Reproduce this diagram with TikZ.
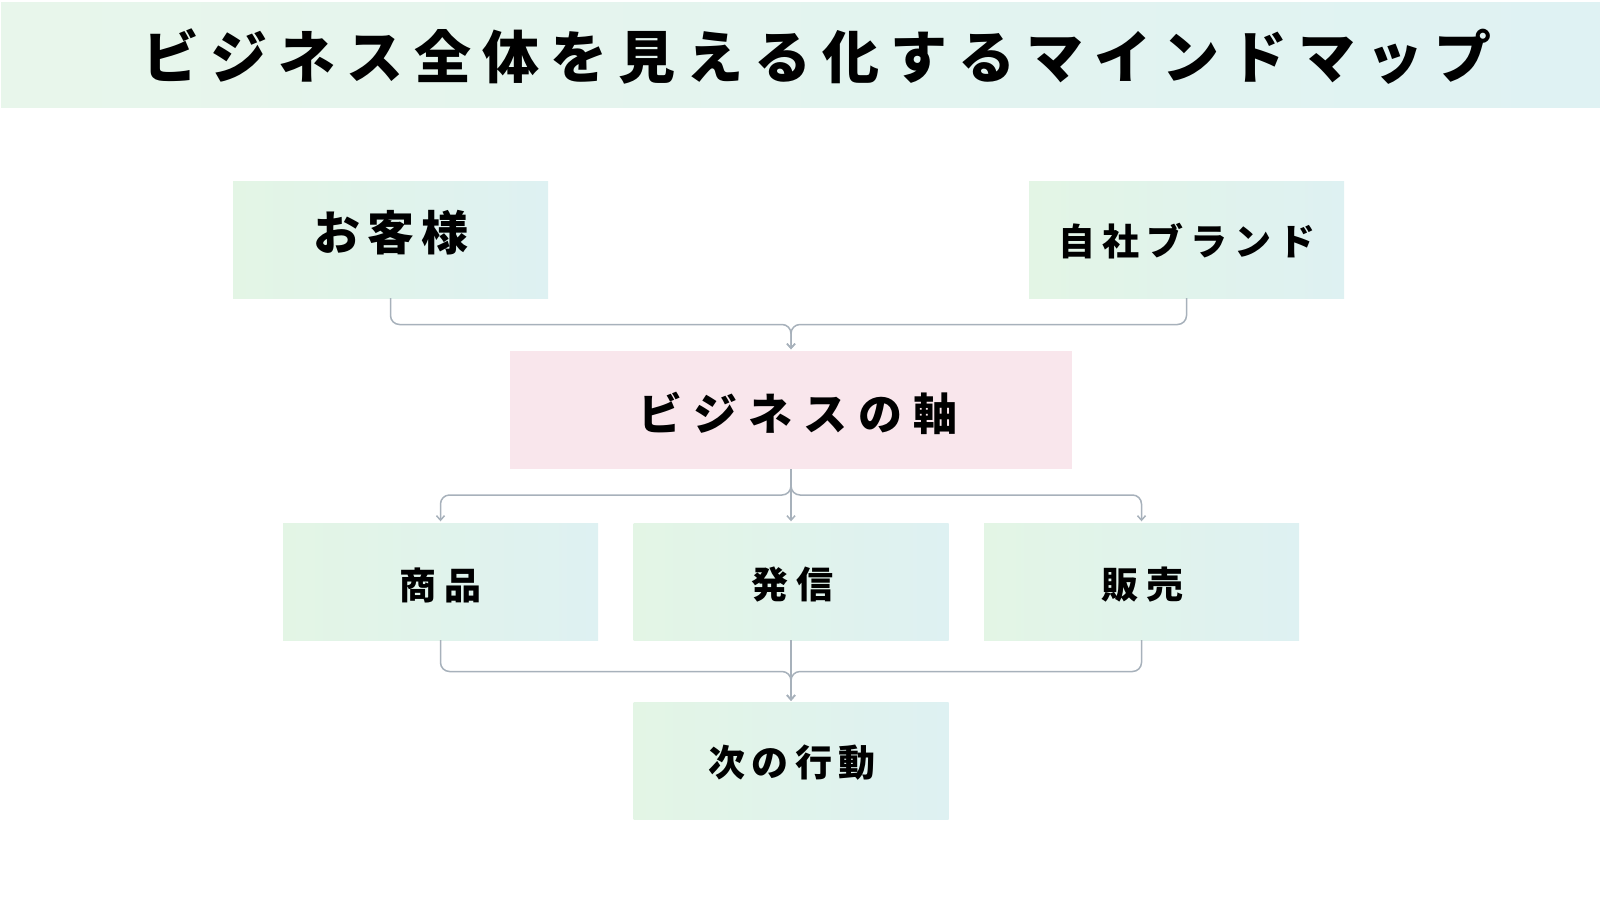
\documentclass[tikz,border=0pt]{standalone}
\usepackage{fontspec}
\newfontfamily\jp{Noto Sans CJK JP}
\usetikzlibrary{arrows.meta}
\definecolor{bandL}{HTML}{E8F6EB}
\definecolor{bandR}{HTML}{DFF2F3}
\definecolor{boxL}{HTML}{E3F5E5}
\definecolor{boxR}{HTML}{DEF1F2}
\definecolor{pinkbox}{HTML}{F9E6EC}
\definecolor{conncol}{HTML}{A7B1BB}
\def\tracked#1#2{\def\trkamt{#1}\trackedA#2\relax}
\def\trackedA#1{#1\futurelet\trknext\trackedB}
\def\trackedB{\ifx\trknext\relax\expandafter\trackedEnd\else\kern\trkamt\expandafter\trackedA\fi}
\def\trackedEnd\relax{}
\tikzset{
  box/.style={rectangle, draw=none, minimum width=315pt, minimum height=117pt, inner sep=0pt, left color=boxL, right color=boxR},
  axisbox/.style={rectangle, draw=none, fill=pinkbox, minimum width=562pt, minimum height=118pt, inner sep=0pt},
  tx/.style={inner sep=0pt, text=black, font=\jp\bfseries},
  conn/.style={draw=conncol, line width=1.5pt, rounded corners=9pt, -{Straight Barb[length=4.5pt,width=8pt]}, shorten >=1.5pt}
}
\begin{document}
\begin{tikzpicture}[x=1pt,y=-1pt]
\useasboundingbox (0,0) rectangle (1600,900);
% title band
\node[rectangle, draw=none, inner sep=0pt, minimum width=1599pt, minimum height=105pt, left color=bandL, right color=bandR] (band) at (800.5,54.5) {};
\node[tx, font=\jp\bfseries\fontsize{57pt}{57pt}\selectfont] (title) at (817,57) {\tracked{11pt}{ビジネス全体を見える化するマインドマップ}};
% boxes
\node[box] (cust) at (390.5,239.5) {};
\node[box] (brand) at (1186.5,239.5) {};
\node[axisbox] (axis) at (791,410) {};
\node[box] (prod) at (440.5,581.5) {};
\node[box] (send) at (791,581.5) {};
\node[box] (sale) at (1141.5,581.5) {};
\node[box] (next) at (791,761) {};
% texts
\node[tx, font=\jp\bfseries\fontsize{47pt}{47pt}\selectfont] (cust-t) at (390.8,233) {\tracked{7pt}{お客様}};
\node[tx, font=\jp\bfseries\fontsize{37pt}{37pt}\selectfont] (brand-t) at (1187,241) {\tracked{7pt}{自社ブランド}};
\node[tx, font=\jp\bfseries\fontsize{44pt}{44pt}\selectfont] (axis-t) at (798,413) {\tracked{11pt}{ビジネスの軸}};
\node[tx, font=\jp\bfseries\fontsize{37pt}{37pt}\selectfont] (prod-t) at (440.3,585) {\tracked{8pt}{商品}};
\node[tx, font=\jp\bfseries\fontsize{37pt}{37pt}\selectfont] (send-t) at (792,585) {\tracked{8pt}{発信}};
\node[tx, font=\jp\bfseries\fontsize{37pt}{37pt}\selectfont] (sale-t) at (1142,585) {\tracked{8pt}{販売}};
\node[tx, font=\jp\bfseries\fontsize{37pt}{37pt}\selectfont] (next-t) at (792,763) {\tracked{6.5pt}{次の行動}};
% junctions
\coordinate (ja) at (791,324.5);
\coordinate (jb) at (791,495);
\coordinate (jc) at (791,671.5);
% connectors
\draw[conn] (cust.south) |- (ja) -- (axis.north);
\draw[conn] (brand.south) |- (ja) -- (axis.north);
\draw[conn] (axis.south) -- (send.north);
\draw[conn] (axis.south) -- (jb) -| (prod.north);
\draw[conn] (axis.south) -- (jb) -| (sale.north);
\draw[conn] (prod.south) |- (jc) -- (next.north);
\draw[conn] (sale.south) |- (jc) -- (next.north);
\draw[conn] (send.south) -- (next.north);
\end{tikzpicture}
\end{document}
